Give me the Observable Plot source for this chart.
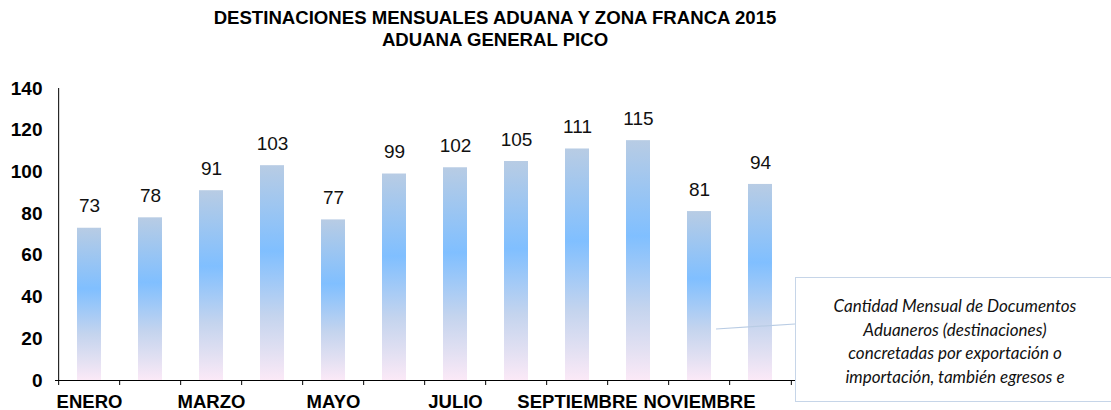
<!DOCTYPE html>
<html><head><meta charset="utf-8">
<script src="https://cdn.jsdelivr.net/npm/d3@7"></script>
<script src="https://cdn.jsdelivr.net/npm/@observablehq/plot@0.6"></script>
<style>
body{margin:0;background:#fff;width:1111px;height:410px;overflow:hidden;position:relative;font-family:"Liberation Sans",Arial,sans-serif;}
#title{width:990px;padding-top:7px;height:53px;text-align:center;font-weight:bold;font-size:18.6px;line-height:22px;color:#000;}
#note{position:absolute;left:795px;top:277px;width:320px;height:125px;box-sizing:border-box;border:1px solid #c6d5e8;background:#fff;font-family:"Lato",sans-serif;font-style:italic;font-size:17px;line-height:23.5px;text-align:center;padding-top:16px;color:#111;}
#leader{position:absolute;left:0;top:0;pointer-events:none}
</style></head>
<body>
<div id="title">DESTINACIONES MENSUALES ADUANA Y ZONA FRANCA 2015<br>ADUANA GENERAL PICO</div>
<div id="chart"></div>
<svg id="leader" width="1111" height="410"><line x1="716" y1="329" x2="795" y2="324" stroke="#b9cce4" stroke-width="1.2"/></svg>
<div id="note">Cantidad Mensual de Documentos<br>Aduaneros (destinaciones)<br>concretadas por exportación o<br>importación, también egresos e</div>
<script>
const months = ["ENERO","FEBRERO","MARZO","ABRIL","MAYO","JUNIO","JULIO","AGOSTO","SEPTIEMBRE","OCTUBRE","NOVIEMBRE","DICIEMBRE"];
const values = [73,78,91,103,77,99,102,105,111,115,81,94];
const shownLabels = ["ENERO","MARZO","MAYO","JULIO","SEPTIEMBRE","NOVIEMBRE"];
const yTicks = [0,20,40,60,80,100,120,140];

const W=1111,H=350,ML=55,MR=316,MT=28,MB=30;
const step=(W-ML-MR)/months.length;
const data = months.map((m,i)=>({month:m,value:values[i]}));

const chart = Plot.plot({
  width:W,height:H,marginLeft:ML,marginRight:MR,marginTop:MT,marginBottom:MB,
  style:{fontFamily:"Liberation Sans, Arial, sans-serif",background:"white",color:"black",overflow:"visible"},
  x:{domain:months,paddingInner:0.6,paddingOuter:0.3},
  y:{domain:[0,140]},
  marks:[
    Plot.barY(data,{x:"month",y:"value",fill:"url(#barGrad)"}),
    Plot.text(data,{x:"month",y:"value",text:d=>String(d.value),dy:-22,fontSize:19,fill:"#111"}),
    Plot.ruleY([0],{stroke:"black"}),
    Plot.ruleX([months[0]],{y1:0,y2:140,dx:-step/2,stroke:"black"}),
    Plot.ruleX(months,{x:d=>d,y1:0,y2:0,dx:-step/2,insetBottom:-5,stroke:"black"}),
    Plot.ruleX([months[months.length-1]],{y1:0,y2:0,dx:step/2,insetBottom:-5,stroke:"black"}),
    Plot.axisX({tickSize:0,tickPadding:14,tickFormat:d=>shownLabels.includes(d)?d:"",fontSize:18.5,fontWeight:"bold",label:null}),
    Plot.axisY({ticks:yTicks,tickSize:0,tickPadding:13,fontSize:19,fontWeight:"bold",label:null})
  ]
});
const ns="http://www.w3.org/2000/svg";
const defs=document.createElementNS(ns,"defs");
defs.innerHTML=`<linearGradient id="barGrad" x1="0" y1="0" x2="0" y2="1">
<stop offset="0" stop-color="#b8cce4"/>
<stop offset="0.4" stop-color="#80bfff"/>
<stop offset="0.7" stop-color="#c4d4ee"/>
<stop offset="0.87" stop-color="#e2e0f2"/>
<stop offset="1" stop-color="#fbe9f7"/>
</linearGradient>`;
chart.insertBefore(defs,chart.firstChild);
document.getElementById("chart").append(chart);
</script>
</body></html>
